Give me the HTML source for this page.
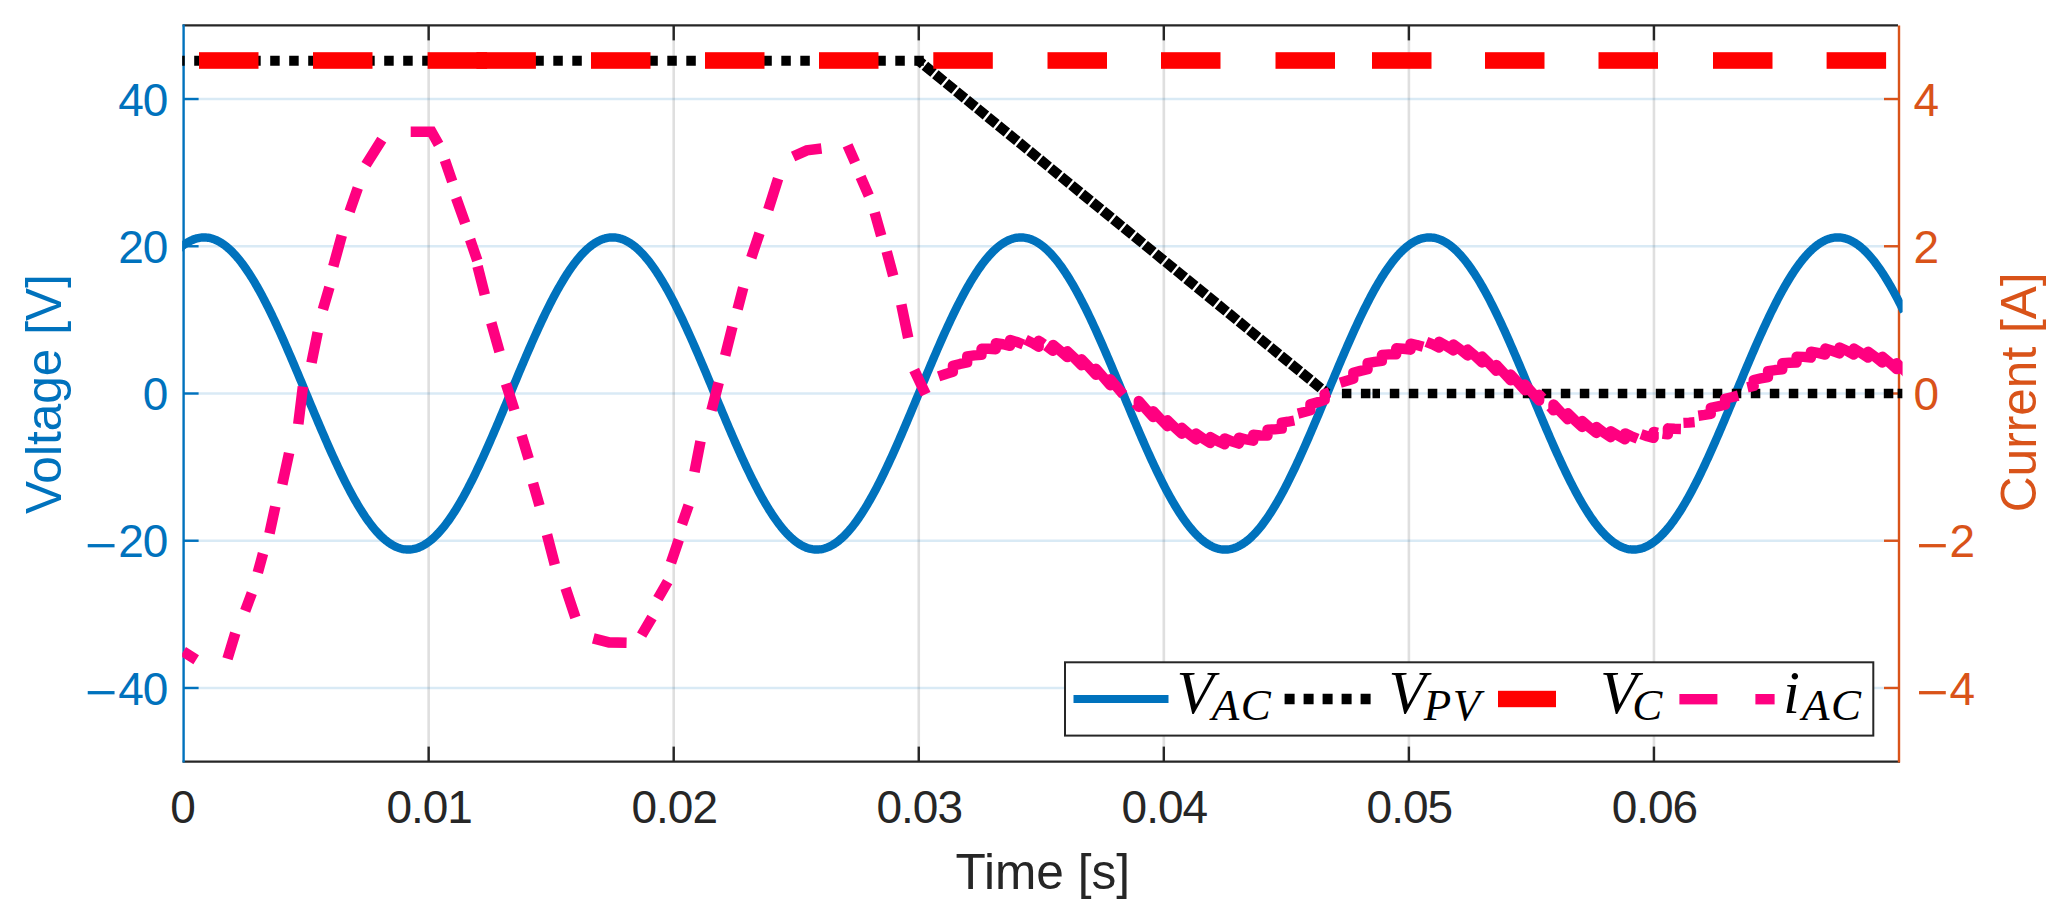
<!DOCTYPE html>
<html lang="en">
<head>
<meta charset="utf-8">
<title>Voltage and current versus time</title>
<style>
html, body { margin: 0; padding: 0; background: #ffffff; }
body { width: 2059px; height: 920px; overflow: hidden; }
svg { display: block; }
</style>
</head>
<body>
<svg width="2059" height="920" viewBox="0 0 2059 920">
<rect x="0" y="0" width="2059" height="920" fill="#ffffff"/>
<defs><clipPath id="plotclip"><rect x="182.2" y="25.4" width="1720.4" height="736.2"/></clipPath></defs>
<g stroke-width="2.6" fill="none">
<line x1="428.66" y1="25.4" x2="428.66" y2="761.6" stroke="rgba(38,38,38,0.15)"/>
<line x1="673.71" y1="25.4" x2="673.71" y2="761.6" stroke="rgba(38,38,38,0.15)"/>
<line x1="918.77" y1="25.4" x2="918.77" y2="761.6" stroke="rgba(38,38,38,0.15)"/>
<line x1="1163.83" y1="25.4" x2="1163.83" y2="761.6" stroke="rgba(38,38,38,0.15)"/>
<line x1="1408.89" y1="25.4" x2="1408.89" y2="761.6" stroke="rgba(38,38,38,0.15)"/>
<line x1="1653.94" y1="25.4" x2="1653.94" y2="761.6" stroke="rgba(38,38,38,0.15)"/>
<line x1="183.6" y1="687.98" x2="1899" y2="687.98" stroke="rgba(0,114,189,0.15)"/>
<line x1="183.6" y1="540.74" x2="1899" y2="540.74" stroke="rgba(0,114,189,0.15)"/>
<line x1="183.6" y1="393.5" x2="1899" y2="393.5" stroke="rgba(0,114,189,0.15)"/>
<line x1="183.6" y1="246.26" x2="1899" y2="246.26" stroke="rgba(0,114,189,0.15)"/>
<line x1="183.6" y1="99.02" x2="1899" y2="99.02" stroke="rgba(0,114,189,0.15)"/>
</g>
<g fill="none" stroke-width="2.4">
<line x1="182.6" y1="25.4" x2="1898" y2="25.4" stroke="#262626"/>
<line x1="182.6" y1="761.6" x2="1900" y2="761.6" stroke="#262626"/>
<line x1="428.66" y1="25.4" x2="428.66" y2="40.4" stroke="#262626"/>
<line x1="428.66" y1="761.6" x2="428.66" y2="746.6" stroke="#262626"/>
<line x1="673.71" y1="25.4" x2="673.71" y2="40.4" stroke="#262626"/>
<line x1="673.71" y1="761.6" x2="673.71" y2="746.6" stroke="#262626"/>
<line x1="918.77" y1="25.4" x2="918.77" y2="40.4" stroke="#262626"/>
<line x1="918.77" y1="761.6" x2="918.77" y2="746.6" stroke="#262626"/>
<line x1="1163.83" y1="25.4" x2="1163.83" y2="40.4" stroke="#262626"/>
<line x1="1163.83" y1="761.6" x2="1163.83" y2="746.6" stroke="#262626"/>
<line x1="1408.89" y1="25.4" x2="1408.89" y2="40.4" stroke="#262626"/>
<line x1="1408.89" y1="761.6" x2="1408.89" y2="746.6" stroke="#262626"/>
<line x1="1653.94" y1="25.4" x2="1653.94" y2="40.4" stroke="#262626"/>
<line x1="1653.94" y1="761.6" x2="1653.94" y2="746.6" stroke="#262626"/>
<line x1="183.6" y1="24.4" x2="183.6" y2="762.6" stroke="#0072BD"/>
<line x1="183.6" y1="687.98" x2="198.6" y2="687.98" stroke="#0072BD"/>
<line x1="183.6" y1="540.74" x2="198.6" y2="540.74" stroke="#0072BD"/>
<line x1="183.6" y1="393.5" x2="198.6" y2="393.5" stroke="#0072BD"/>
<line x1="183.6" y1="246.26" x2="198.6" y2="246.26" stroke="#0072BD"/>
<line x1="183.6" y1="99.02" x2="198.6" y2="99.02" stroke="#0072BD"/>
</g>
<g fill="none" stroke-width="2.4">
<line x1="1899" y1="25.4" x2="1899" y2="762.6" stroke="#D95319"/>
<line x1="1899" y1="687.98" x2="1884" y2="687.98" stroke="#D95319"/>
<line x1="1899" y1="540.74" x2="1884" y2="540.74" stroke="#D95319"/>
<line x1="1899" y1="393.5" x2="1884" y2="393.5" stroke="#D95319"/>
<line x1="1899" y1="246.26" x2="1884" y2="246.26" stroke="#D95319"/>
<line x1="1899" y1="99.02" x2="1884" y2="99.02" stroke="#D95319"/>
</g>
<g clip-path="url(#plotclip)" fill="none">
<path d="M178.7 249.12L179.92 248.03L181.15 246.99L182.37 246L183.6 245.06L184.83 244.18L186.05 243.35L187.28 242.58L188.5 241.85L189.73 241.18L190.95 240.57L192.18 240.01L193.4 239.5L194.63 239.05L195.85 238.66L197.08 238.32L198.3 238.03L199.53 237.8L200.75 237.62L201.98 237.5L203.2 237.44L204.43 237.43L205.66 237.47L206.88 237.58L208.11 237.73L209.33 237.95L210.56 238.21L211.78 238.54L213.01 238.91L214.23 239.35L215.46 239.83L216.68 240.38L217.91 240.97L219.13 241.62L220.36 242.33L221.58 243.09L222.81 243.9L224.03 244.76L225.26 245.68L226.49 246.65L227.71 247.68L228.94 248.75L230.16 249.88L231.39 251.05L232.61 252.28L233.84 253.56L235.06 254.88L236.29 256.26L237.51 257.69L238.74 259.16L239.96 260.68L241.19 262.25L242.41 263.87L243.64 265.53L244.86 267.23L246.09 268.98L247.31 270.78L248.54 272.62L249.77 274.5L250.99 276.43L252.22 278.39L253.44 280.4L254.67 282.45L255.89 284.53L257.12 286.66L258.34 288.82L259.57 291.02L260.79 293.26L262.02 295.53L263.24 297.84L264.47 300.18L265.69 302.56L266.92 304.96L268.14 307.4L269.37 309.87L270.6 312.37L271.82 314.9L273.05 317.45L274.27 320.04L275.5 322.64L276.72 325.28L277.95 327.94L279.17 330.62L280.4 333.32L281.62 336.05L282.85 338.79L284.07 341.56L285.3 344.34L286.52 347.14L287.75 349.96L288.97 352.79L290.2 355.64L291.43 358.5L292.65 361.37L293.88 364.25L295.1 367.15L296.33 370.05L297.55 372.97L298.78 375.89L300 378.81L301.23 381.74L302.45 384.68L303.68 387.62L304.9 390.56L306.13 393.5L307.35 396.44L308.58 399.38L309.8 402.32L311.03 405.26L312.25 408.19L313.48 411.11L314.71 414.03L315.93 416.95L317.16 419.85L318.38 422.75L319.61 425.63L320.83 428.5L322.06 431.36L323.28 434.21L324.51 437.04L325.73 439.86L326.96 442.66L328.18 445.44L329.41 448.21L330.63 450.95L331.86 453.68L333.08 456.38L334.31 459.06L335.54 461.72L336.76 464.36L337.99 466.96L339.21 469.55L340.44 472.1L341.66 474.63L342.89 477.13L344.11 479.6L345.34 482.04L346.56 484.44L347.79 486.82L349.01 489.16L350.24 491.47L351.46 493.74L352.69 495.98L353.91 498.18L355.14 500.34L356.37 502.47L357.59 504.55L358.82 506.6L360.04 508.61L361.27 510.57L362.49 512.5L363.72 514.38L364.94 516.22L366.17 518.02L367.39 519.77L368.62 521.47L369.84 523.13L371.07 524.75L372.29 526.32L373.52 527.84L374.74 529.31L375.97 530.74L377.2 532.12L378.42 533.44L379.65 534.72L380.87 535.95L382.1 537.12L383.32 538.25L384.55 539.32L385.77 540.35L387 541.32L388.22 542.24L389.45 543.1L390.67 543.91L391.9 544.67L393.12 545.38L394.35 546.03L395.57 546.62L396.8 547.17L398.02 547.65L399.25 548.09L400.48 548.46L401.7 548.79L402.93 549.05L404.15 549.27L405.38 549.42L406.6 549.53L407.83 549.57L409.05 549.56L410.28 549.5L411.5 549.38L412.73 549.2L413.95 548.97L415.18 548.68L416.4 548.34L417.63 547.95L418.85 547.5L420.08 546.99L421.31 546.43L422.53 545.82L423.76 545.15L424.98 544.42L426.21 543.65L427.43 542.82L428.66 541.94L429.88 541L431.11 540.01L432.33 538.97L433.56 537.88L434.78 536.74L436.01 535.54L437.23 534.3L438.46 533.01L439.68 531.66L440.91 530.27L442.14 528.83L443.36 527.34L444.59 525.8L445.81 524.22L447.04 522.59L448.26 520.91L449.49 519.19L450.71 517.42L451.94 515.61L453.16 513.76L454.39 511.86L455.61 509.92L456.84 507.94L458.06 505.92L459.29 503.86L460.51 501.76L461.74 499.62L462.97 497.45L464.19 495.23L465.42 492.99L466.64 490.7L467.87 488.38L469.09 486.03L470.32 483.64L471.54 481.23L472.77 478.78L473.99 476.3L475.22 473.79L476.44 471.25L477.67 468.69L478.89 466.1L480.12 463.48L481.34 460.84L482.57 458.17L483.79 455.48L485.02 452.77L486.25 450.04L487.47 447.29L488.7 444.52L489.92 441.73L491.15 438.92L492.37 436.1L493.6 433.26L494.82 430.41L496.05 427.55L497.27 424.67L498.5 421.78L499.72 418.88L500.95 415.98L502.17 413.06L503.4 410.14L504.62 407.21L505.85 404.28L507.08 401.34L508.3 398.4L509.53 395.46L510.75 392.52L511.98 389.58L513.2 386.64L514.43 383.7L515.65 380.77L516.88 377.84L518.1 374.91L519.33 371.99L520.55 369.08L521.78 366.18L523 363.29L524.23 360.41L525.45 357.54L526.68 354.69L527.91 351.84L529.13 349.02L530.36 346.2L531.58 343.41L532.81 340.63L534.03 337.87L535.26 335.13L536.48 332.42L537.71 329.72L538.93 327.05L540.16 324.4L541.38 321.77L542.61 319.17L543.83 316.6L545.06 314.05L546.28 311.53L547.51 309.04L548.74 306.59L549.96 304.16L551.19 301.76L552.41 299.4L553.64 297.07L554.86 294.77L556.09 292.51L557.31 290.29L558.54 288.1L559.76 285.95L560.99 283.83L562.21 281.76L563.44 279.73L564.66 277.73L565.89 275.78L567.11 273.87L568.34 272L569.57 270.18L570.79 268.4L572.02 266.66L573.24 264.97L574.47 263.32L575.69 261.72L576.92 260.17L578.14 258.66L579.37 257.21L580.59 255.8L581.82 254.44L583.04 253.13L584.27 251.86L585.49 250.65L586.72 249.49L587.94 248.39L589.17 247.33L590.39 246.32L591.62 245.37L592.85 244.47L594.07 243.62L595.3 242.83L596.52 242.09L597.75 241.4L598.97 240.77L600.2 240.19L601.42 239.67L602.65 239.2L603.87 238.78L605.1 238.42L606.32 238.12L607.55 237.87L608.77 237.68L610 237.54L611.22 237.45L612.45 237.43L613.68 237.45L614.9 237.54L616.13 237.68L617.35 237.87L618.58 238.12L619.8 238.42L621.03 238.78L622.25 239.2L623.48 239.67L624.7 240.19L625.93 240.77L627.15 241.4L628.38 242.09L629.6 242.83L630.83 243.62L632.05 244.47L633.28 245.37L634.51 246.32L635.73 247.33L636.96 248.39L638.18 249.49L639.41 250.65L640.63 251.86L641.86 253.13L643.08 254.44L644.31 255.8L645.53 257.21L646.76 258.66L647.98 260.17L649.21 261.72L650.43 263.32L651.66 264.97L652.88 266.66L654.11 268.4L655.34 270.18L656.56 272L657.79 273.87L659.01 275.78L660.24 277.73L661.46 279.73L662.69 281.76L663.91 283.83L665.14 285.95L666.36 288.1L667.59 290.29L668.81 292.51L670.04 294.77L671.26 297.07L672.49 299.4L673.71 301.76L674.94 304.16L676.16 306.59L677.39 309.04L678.62 311.53L679.84 314.05L681.07 316.6L682.29 319.17L683.52 321.77L684.74 324.4L685.97 327.05L687.19 329.72L688.42 332.42L689.64 335.13L690.87 337.87L692.09 340.63L693.32 343.41L694.54 346.2L695.77 349.02L696.99 351.84L698.22 354.69L699.45 357.54L700.67 360.41L701.9 363.29L703.12 366.18L704.35 369.08L705.57 371.99L706.8 374.91L708.02 377.84L709.25 380.77L710.47 383.7L711.7 386.64L712.92 389.58L714.15 392.52L715.37 395.46L716.6 398.4L717.82 401.34L719.05 404.28L720.28 407.21L721.5 410.14L722.73 413.06L723.95 415.98L725.18 418.88L726.4 421.78L727.63 424.67L728.85 427.55L730.08 430.41L731.3 433.26L732.53 436.1L733.75 438.92L734.98 441.73L736.2 444.52L737.43 447.29L738.65 450.04L739.88 452.77L741.11 455.48L742.33 458.17L743.56 460.84L744.78 463.48L746.01 466.1L747.23 468.69L748.46 471.25L749.68 473.79L750.91 476.3L752.13 478.78L753.36 481.23L754.58 483.64L755.81 486.03L757.03 488.38L758.26 490.7L759.48 492.99L760.71 495.23L761.93 497.45L763.16 499.62L764.39 501.76L765.61 503.86L766.84 505.92L768.06 507.94L769.29 509.92L770.51 511.86L771.74 513.76L772.96 515.61L774.19 517.42L775.41 519.19L776.64 520.91L777.86 522.59L779.09 524.22L780.31 525.8L781.54 527.34L782.76 528.83L783.99 530.27L785.22 531.66L786.44 533.01L787.67 534.3L788.89 535.54L790.12 536.74L791.34 537.88L792.57 538.97L793.79 540.01L795.02 541L796.24 541.94L797.47 542.82L798.69 543.65L799.92 544.42L801.14 545.15L802.37 545.82L803.59 546.43L804.82 546.99L806.05 547.5L807.27 547.95L808.5 548.34L809.72 548.68L810.95 548.97L812.17 549.2L813.4 549.38L814.62 549.5L815.85 549.56L817.07 549.57L818.3 549.53L819.52 549.42L820.75 549.27L821.97 549.05L823.2 548.79L824.42 548.46L825.65 548.09L826.88 547.65L828.1 547.17L829.33 546.62L830.55 546.03L831.78 545.38L833 544.67L834.23 543.91L835.45 543.1L836.68 542.24L837.9 541.32L839.13 540.35L840.35 539.32L841.58 538.25L842.8 537.12L844.03 535.95L845.25 534.72L846.48 533.44L847.7 532.12L848.93 530.74L850.16 529.31L851.38 527.84L852.61 526.32L853.83 524.75L855.06 523.13L856.28 521.47L857.51 519.77L858.73 518.02L859.96 516.22L861.18 514.38L862.41 512.5L863.63 510.57L864.86 508.61L866.08 506.6L867.31 504.55L868.53 502.47L869.76 500.34L870.99 498.18L872.21 495.98L873.44 493.74L874.66 491.47L875.89 489.16L877.11 486.82L878.34 484.44L879.56 482.04L880.79 479.6L882.01 477.13L883.24 474.63L884.46 472.1L885.69 469.55L886.91 466.96L888.14 464.36L889.36 461.72L890.59 459.06L891.82 456.38L893.04 453.68L894.27 450.95L895.49 448.21L896.72 445.44L897.94 442.66L899.17 439.86L900.39 437.04L901.62 434.21L902.84 431.36L904.07 428.5L905.29 425.63L906.52 422.75L907.74 419.85L908.97 416.95L910.19 414.03L911.42 411.11L912.65 408.19L913.87 405.26L915.1 402.32L916.32 399.38L917.55 396.44L918.77 393.5L920 390.56L921.22 387.62L922.45 384.68L923.67 381.74L924.9 378.81L926.12 375.89L927.35 372.97L928.57 370.05L929.8 367.15L931.02 364.25L932.25 361.37L933.47 358.5L934.7 355.64L935.93 352.79L937.15 349.96L938.38 347.14L939.6 344.34L940.83 341.56L942.05 338.79L943.28 336.05L944.5 333.32L945.73 330.62L946.95 327.94L948.18 325.28L949.4 322.64L950.63 320.04L951.85 317.45L953.08 314.9L954.3 312.37L955.53 309.87L956.76 307.4L957.98 304.96L959.21 302.56L960.43 300.18L961.66 297.84L962.88 295.53L964.11 293.26L965.33 291.02L966.56 288.82L967.78 286.66L969.01 284.53L970.23 282.45L971.46 280.4L972.68 278.39L973.91 276.43L975.13 274.5L976.36 272.62L977.59 270.78L978.81 268.98L980.04 267.23L981.26 265.53L982.49 263.87L983.71 262.25L984.94 260.68L986.16 259.16L987.39 257.69L988.61 256.26L989.84 254.88L991.06 253.56L992.29 252.28L993.51 251.05L994.74 249.88L995.96 248.75L997.19 247.68L998.42 246.65L999.64 245.68L1000.87 244.76L1002.09 243.9L1003.32 243.09L1004.54 242.33L1005.77 241.62L1006.99 240.97L1008.22 240.38L1009.44 239.83L1010.67 239.35L1011.89 238.91L1013.12 238.54L1014.34 238.21L1015.57 237.95L1016.79 237.73L1018.02 237.58L1019.24 237.47L1020.47 237.43L1021.7 237.44L1022.92 237.5L1024.15 237.62L1025.37 237.8L1026.6 238.03L1027.82 238.32L1029.05 238.66L1030.27 239.05L1031.5 239.5L1032.72 240.01L1033.95 240.57L1035.17 241.18L1036.4 241.85L1037.62 242.58L1038.85 243.35L1040.07 244.18L1041.3 245.06L1042.53 246L1043.75 246.99L1044.98 248.03L1046.2 249.12L1047.43 250.26L1048.65 251.46L1049.88 252.7L1051.1 253.99L1052.33 255.34L1053.55 256.73L1054.78 258.17L1056 259.66L1057.23 261.2L1058.45 262.78L1059.68 264.41L1060.9 266.09L1062.13 267.81L1063.36 269.58L1064.58 271.39L1065.81 273.24L1067.03 275.14L1068.26 277.08L1069.48 279.06L1070.71 281.08L1071.93 283.14L1073.16 285.24L1074.38 287.38L1075.61 289.55L1076.83 291.77L1078.06 294.01L1079.28 296.3L1080.51 298.62L1081.73 300.97L1082.96 303.36L1084.19 305.77L1085.41 308.22L1086.64 310.7L1087.86 313.21L1089.09 315.75L1090.31 318.31L1091.54 320.9L1092.76 323.52L1093.99 326.16L1095.21 328.83L1096.44 331.52L1097.66 334.23L1098.89 336.96L1100.11 339.71L1101.34 342.48L1102.56 345.27L1103.79 348.08L1105.01 350.9L1106.24 353.74L1107.47 356.59L1108.69 359.45L1109.92 362.33L1111.14 365.22L1112.37 368.12L1113.59 371.02L1114.82 373.94L1116.04 376.86L1117.27 379.79L1118.49 382.72L1119.72 385.66L1120.94 388.6L1122.17 391.54L1123.39 394.48L1124.62 397.42L1125.84 400.36L1127.07 403.3L1128.3 406.23L1129.52 409.16L1130.75 412.09L1131.97 415.01L1133.2 417.92L1134.42 420.82L1135.65 423.71L1136.87 426.59L1138.1 429.46L1139.32 432.31L1140.55 435.16L1141.77 437.98L1143 440.8L1144.22 443.59L1145.45 446.37L1146.67 449.13L1147.9 451.87L1149.13 454.58L1150.35 457.28L1151.58 459.95L1152.8 462.6L1154.03 465.23L1155.25 467.83L1156.48 470.4L1157.7 472.95L1158.93 475.47L1160.15 477.96L1161.38 480.41L1162.6 482.84L1163.83 485.24L1165.05 487.6L1166.28 489.93L1167.5 492.23L1168.73 494.49L1169.95 496.71L1171.18 498.9L1172.41 501.05L1173.63 503.17L1174.86 505.24L1176.08 507.27L1177.31 509.27L1178.53 511.22L1179.76 513.13L1180.98 515L1182.21 516.82L1183.43 518.6L1184.66 520.34L1185.88 522.03L1187.11 523.68L1188.33 525.28L1189.56 526.83L1190.78 528.34L1192.01 529.79L1193.24 531.2L1194.46 532.56L1195.69 533.87L1196.91 535.14L1198.14 536.35L1199.36 537.51L1200.59 538.61L1201.81 539.67L1203.04 540.68L1204.26 541.63L1205.49 542.53L1206.71 543.38L1207.94 544.17L1209.16 544.91L1210.39 545.6L1211.61 546.23L1212.84 546.81L1214.07 547.33L1215.29 547.8L1216.52 548.22L1217.74 548.58L1218.97 548.88L1220.19 549.13L1221.42 549.32L1222.64 549.46L1223.87 549.55L1225.09 549.57L1226.32 549.55L1227.54 549.46L1228.77 549.32L1229.99 549.13L1231.22 548.88L1232.44 548.58L1233.67 548.22L1234.9 547.8L1236.12 547.33L1237.35 546.81L1238.57 546.23L1239.8 545.6L1241.02 544.91L1242.25 544.17L1243.47 543.38L1244.7 542.53L1245.92 541.63L1247.15 540.68L1248.37 539.67L1249.6 538.61L1250.82 537.51L1252.05 536.35L1253.27 535.14L1254.5 533.87L1255.73 532.56L1256.95 531.2L1258.18 529.79L1259.4 528.34L1260.63 526.83L1261.85 525.28L1263.08 523.68L1264.3 522.03L1265.53 520.34L1266.75 518.6L1267.98 516.82L1269.2 515L1270.43 513.13L1271.65 511.22L1272.88 509.27L1274.1 507.27L1275.33 505.24L1276.55 503.17L1277.78 501.05L1279.01 498.9L1280.23 496.71L1281.46 494.49L1282.68 492.23L1283.91 489.93L1285.13 487.6L1286.36 485.24L1287.58 482.84L1288.81 480.41L1290.03 477.96L1291.26 475.47L1292.48 472.95L1293.71 470.4L1294.93 467.83L1296.16 465.23L1297.38 462.6L1298.61 459.95L1299.84 457.28L1301.06 454.58L1302.29 451.87L1303.51 449.13L1304.74 446.37L1305.96 443.59L1307.19 440.8L1308.41 437.98L1309.64 435.16L1310.86 432.31L1312.09 429.46L1313.31 426.59L1314.54 423.71L1315.76 420.82L1316.99 417.92L1318.21 415.01L1319.44 412.09L1320.67 409.16L1321.89 406.23L1323.12 403.3L1324.34 400.36L1325.57 397.42L1326.79 394.48L1328.02 391.54L1329.24 388.6L1330.47 385.66L1331.69 382.72L1332.92 379.79L1334.14 376.86L1335.37 373.94L1336.59 371.02L1337.82 368.12L1339.04 365.22L1340.27 362.33L1341.49 359.45L1342.72 356.59L1343.95 353.74L1345.17 350.9L1346.4 348.08L1347.62 345.27L1348.85 342.48L1350.07 339.71L1351.3 336.96L1352.52 334.23L1353.75 331.52L1354.97 328.83L1356.2 326.16L1357.42 323.52L1358.65 320.9L1359.87 318.31L1361.1 315.75L1362.32 313.21L1363.55 310.7L1364.78 308.22L1366 305.77L1367.23 303.36L1368.45 300.97L1369.68 298.62L1370.9 296.3L1372.13 294.01L1373.35 291.77L1374.58 289.55L1375.8 287.38L1377.03 285.24L1378.25 283.14L1379.48 281.08L1380.7 279.06L1381.93 277.08L1383.15 275.14L1384.38 273.24L1385.61 271.39L1386.83 269.58L1388.06 267.81L1389.28 266.09L1390.51 264.41L1391.73 262.78L1392.96 261.2L1394.18 259.66L1395.41 258.17L1396.63 256.73L1397.86 255.34L1399.08 253.99L1400.31 252.7L1401.53 251.46L1402.76 250.26L1403.98 249.12L1405.21 248.03L1406.44 246.99L1407.66 246L1408.89 245.06L1410.11 244.18L1411.34 243.35L1412.56 242.58L1413.79 241.85L1415.01 241.18L1416.24 240.57L1417.46 240.01L1418.69 239.5L1419.91 239.05L1421.14 238.66L1422.36 238.32L1423.59 238.03L1424.81 237.8L1426.04 237.62L1427.27 237.5L1428.49 237.44L1429.72 237.43L1430.94 237.47L1432.17 237.58L1433.39 237.73L1434.62 237.95L1435.84 238.21L1437.07 238.54L1438.29 238.91L1439.52 239.35L1440.74 239.83L1441.97 240.38L1443.19 240.97L1444.42 241.62L1445.64 242.33L1446.87 243.09L1448.09 243.9L1449.32 244.76L1450.55 245.68L1451.77 246.65L1453 247.68L1454.22 248.75L1455.45 249.88L1456.67 251.05L1457.9 252.28L1459.12 253.56L1460.35 254.88L1461.57 256.26L1462.8 257.69L1464.02 259.16L1465.25 260.68L1466.47 262.25L1467.7 263.87L1468.92 265.53L1470.15 267.23L1471.38 268.98L1472.6 270.78L1473.83 272.62L1475.05 274.5L1476.28 276.43L1477.5 278.39L1478.73 280.4L1479.95 282.45L1481.18 284.53L1482.4 286.66L1483.63 288.82L1484.85 291.02L1486.08 293.26L1487.3 295.53L1488.53 297.84L1489.75 300.18L1490.98 302.56L1492.21 304.96L1493.43 307.4L1494.66 309.87L1495.88 312.37L1497.11 314.9L1498.33 317.45L1499.56 320.04L1500.78 322.64L1502.01 325.28L1503.23 327.94L1504.46 330.62L1505.68 333.32L1506.91 336.05L1508.13 338.79L1509.36 341.56L1510.58 344.34L1511.81 347.14L1513.04 349.96L1514.26 352.79L1515.49 355.64L1516.71 358.5L1517.94 361.37L1519.16 364.25L1520.39 367.15L1521.61 370.05L1522.84 372.97L1524.06 375.89L1525.29 378.81L1526.51 381.74L1527.74 384.68L1528.96 387.62L1530.19 390.56L1531.41 393.5L1532.64 396.44L1533.86 399.38L1535.09 402.32L1536.32 405.26L1537.54 408.19L1538.77 411.11L1539.99 414.03L1541.22 416.95L1542.44 419.85L1543.67 422.75L1544.89 425.63L1546.12 428.5L1547.34 431.36L1548.57 434.21L1549.79 437.04L1551.02 439.86L1552.24 442.66L1553.47 445.44L1554.69 448.21L1555.92 450.95L1557.15 453.68L1558.37 456.38L1559.6 459.06L1560.82 461.72L1562.05 464.36L1563.27 466.96L1564.5 469.55L1565.72 472.1L1566.95 474.63L1568.17 477.13L1569.4 479.6L1570.62 482.04L1571.85 484.44L1573.07 486.82L1574.3 489.16L1575.52 491.47L1576.75 493.74L1577.98 495.98L1579.2 498.18L1580.43 500.34L1581.65 502.47L1582.88 504.55L1584.1 506.6L1585.33 508.61L1586.55 510.57L1587.78 512.5L1589 514.38L1590.23 516.22L1591.45 518.02L1592.68 519.77L1593.9 521.47L1595.13 523.13L1596.35 524.75L1597.58 526.32L1598.81 527.84L1600.03 529.31L1601.26 530.74L1602.48 532.12L1603.71 533.44L1604.93 534.72L1606.16 535.95L1607.38 537.12L1608.61 538.25L1609.83 539.32L1611.06 540.35L1612.28 541.32L1613.51 542.24L1614.73 543.1L1615.96 543.91L1617.18 544.67L1618.41 545.38L1619.63 546.03L1620.86 546.62L1622.09 547.17L1623.31 547.65L1624.54 548.09L1625.76 548.46L1626.99 548.79L1628.21 549.05L1629.44 549.27L1630.66 549.42L1631.89 549.53L1633.11 549.57L1634.34 549.56L1635.56 549.5L1636.79 549.38L1638.01 549.2L1639.24 548.97L1640.46 548.68L1641.69 548.34L1642.92 547.95L1644.14 547.5L1645.37 546.99L1646.59 546.43L1647.82 545.82L1649.04 545.15L1650.27 544.42L1651.49 543.65L1652.72 542.82L1653.94 541.94L1655.17 541L1656.39 540.01L1657.62 538.97L1658.84 537.88L1660.07 536.74L1661.29 535.54L1662.52 534.3L1663.75 533.01L1664.97 531.66L1666.2 530.27L1667.42 528.83L1668.65 527.34L1669.87 525.8L1671.1 524.22L1672.32 522.59L1673.55 520.91L1674.77 519.19L1676 517.42L1677.22 515.61L1678.45 513.76L1679.67 511.86L1680.9 509.92L1682.12 507.94L1683.35 505.92L1684.58 503.86L1685.8 501.76L1687.03 499.62L1688.25 497.45L1689.48 495.23L1690.7 492.99L1691.93 490.7L1693.15 488.38L1694.38 486.03L1695.6 483.64L1696.83 481.23L1698.05 478.78L1699.28 476.3L1700.5 473.79L1701.73 471.25L1702.95 468.69L1704.18 466.1L1705.4 463.48L1706.63 460.84L1707.86 458.17L1709.08 455.48L1710.31 452.77L1711.53 450.04L1712.76 447.29L1713.98 444.52L1715.21 441.73L1716.43 438.92L1717.66 436.1L1718.88 433.26L1720.11 430.41L1721.33 427.55L1722.56 424.67L1723.78 421.78L1725.01 418.88L1726.23 415.98L1727.46 413.06L1728.69 410.14L1729.91 407.21L1731.14 404.28L1732.36 401.34L1733.59 398.4L1734.81 395.46L1736.04 392.52L1737.26 389.58L1738.49 386.64L1739.71 383.7L1740.94 380.77L1742.16 377.84L1743.39 374.91L1744.61 371.99L1745.84 369.08L1747.06 366.18L1748.29 363.29L1749.52 360.41L1750.74 357.54L1751.97 354.69L1753.19 351.84L1754.42 349.02L1755.64 346.2L1756.87 343.41L1758.09 340.63L1759.32 337.87L1760.54 335.13L1761.77 332.42L1762.99 329.72L1764.22 327.05L1765.44 324.4L1766.67 321.77L1767.89 319.17L1769.12 316.6L1770.35 314.05L1771.57 311.53L1772.8 309.04L1774.02 306.59L1775.25 304.16L1776.47 301.76L1777.7 299.4L1778.92 297.07L1780.15 294.77L1781.37 292.51L1782.6 290.29L1783.82 288.1L1785.05 285.95L1786.27 283.83L1787.5 281.76L1788.72 279.73L1789.95 277.73L1791.17 275.78L1792.4 273.87L1793.63 272L1794.85 270.18L1796.08 268.4L1797.3 266.66L1798.53 264.97L1799.75 263.32L1800.98 261.72L1802.2 260.17L1803.43 258.66L1804.65 257.21L1805.88 255.8L1807.1 254.44L1808.33 253.13L1809.55 251.86L1810.78 250.65L1812 249.49L1813.23 248.39L1814.46 247.33L1815.68 246.32L1816.91 245.37L1818.13 244.47L1819.36 243.62L1820.58 242.83L1821.81 242.09L1823.03 241.4L1824.26 240.77L1825.48 240.19L1826.71 239.67L1827.93 239.2L1829.16 238.78L1830.38 238.42L1831.61 238.12L1832.83 237.87L1834.06 237.68L1835.29 237.54L1836.51 237.45L1837.74 237.43L1838.96 237.45L1840.19 237.54L1841.41 237.68L1842.64 237.87L1843.86 238.12L1845.09 238.42L1846.31 238.78L1847.54 239.2L1848.76 239.67L1849.99 240.19L1851.21 240.77L1852.44 241.4L1853.66 242.09L1854.89 242.83L1856.11 243.62L1857.34 244.47L1858.57 245.37L1859.79 246.32L1861.02 247.33L1862.24 248.39L1863.47 249.49L1864.69 250.65L1865.92 251.86L1867.14 253.13L1868.37 254.44L1869.59 255.8L1870.82 257.21L1872.04 258.66L1873.27 260.17L1874.49 261.72L1875.72 263.32L1876.94 264.97L1878.17 266.66L1879.4 268.4L1880.62 270.18L1881.85 272L1883.07 273.87L1884.3 275.78L1885.52 277.73L1886.75 279.73L1887.97 281.76L1889.2 283.83L1890.42 285.95L1891.65 288.1L1892.87 290.29L1894.1 292.51L1895.32 294.77L1896.55 297.07L1897.77 299.4L1899 301.76L1900.23 304.16L1901.45 306.59L1902.68 309.04L1903.9 311.53" stroke="#0072BD" stroke-width="8.4" stroke-linejoin="round"/>
<path d="M180.6 60.8 L470 60.8" stroke="#000" stroke-width="10" stroke-dasharray="9.5 9.5" stroke-dashoffset="5.4"/>
<path d="M477.3 60.8 L924 60.8" stroke="#000" stroke-width="10" stroke-dasharray="9.5 9.5"/>
<path d="M918.77 60.8 L1327.2 393.5" stroke="#000" stroke-width="10.2" stroke-dasharray="11.2 2.3" stroke-dashoffset="5.6"/>
<path d="M1341.9 393.5 L1372.5 393.5" stroke="#000" stroke-width="9.5" stroke-dasharray="9.5 9.5"/>
<rect x="1372.5" y="388.75" width="7.5" height="9.5" fill="#000"/>
<path d="M1389.8 393.5 L1896 393.5" stroke="#000" stroke-width="9.5" stroke-dasharray="9.5 9.5"/>
<rect x="1897.6" y="388.75" width="5" height="9.5" fill="#000"/>
<rect x="199" y="52.2" width="59.5" height="16.6" fill="#FF0000"/>
<rect x="313" y="52.2" width="59.5" height="16.6" fill="#FF0000"/>
<rect x="427.6" y="52.2" width="59.5" height="16.6" fill="#FF0000"/>
<rect x="476.4" y="52.2" width="59.5" height="16.6" fill="#FF0000"/>
<rect x="591" y="52.2" width="59.5" height="16.6" fill="#FF0000"/>
<rect x="705" y="52.2" width="59.5" height="16.6" fill="#FF0000"/>
<rect x="819" y="52.2" width="59.5" height="16.6" fill="#FF0000"/>
<rect x="933.3" y="52.2" width="59.5" height="16.6" fill="#FF0000"/>
<rect x="1047.5" y="52.2" width="59.5" height="16.6" fill="#FF0000"/>
<rect x="1161" y="52.2" width="59.5" height="16.6" fill="#FF0000"/>
<rect x="1275.5" y="52.2" width="59.5" height="16.6" fill="#FF0000"/>
<rect x="1372" y="52.2" width="59.5" height="16.6" fill="#FF0000"/>
<rect x="1485" y="52.2" width="59.5" height="16.6" fill="#FF0000"/>
<rect x="1598.5" y="52.2" width="59.5" height="16.6" fill="#FF0000"/>
<rect x="1713" y="52.2" width="59.5" height="16.6" fill="#FF0000"/>
<rect x="1826.6" y="52.2" width="59.5" height="16.6" fill="#FF0000"/>
<path d="M183.2 651.6 L196.2 659.7 M227.5 658.7 L235.3 633.1 M245.2 610.9 L251.8 593.2 M257.8 572.6 L263 553.5 M269.5 533.4 L275.3 506.5 M282.3 484.4 L289.1 453 M298.3 424.2 L302.9 386.7 M311.5 362.8 L317.7 332.3 M322.9 309.4 L329.4 287.3 M333.3 266.4 L341.8 235.4 M349.6 211.6 L357.8 188.1 M366 164.8 L381.8 139.6 M410.7 131.7 L431.5 131.7 L438.6 144.4 M444.9 160.2 L452.2 181.4 M456.1 197.9 L465.2 223.3 M470.1 239.6 L477.3 260.5 M477.6 266.4 L484.8 294.8 M491.3 322.8 L499.5 351.8 M506 383.8 L514.4 410 M521.6 435.5 L528.7 458.9 M533 483.1 L539.5 505.6 M547 534.6 L554.8 564.6 M565.6 588.1 L575.4 617.5 M593.3 638.3 L609 642.4 L626.6 642.8 M641.6 635.1 L652 617.5 M657.9 598.6 L667.7 581.6 M671 562.7 L678.8 539.8 M682 524.2 L688.6 505.3 M694.5 472 L700.5 441.3 M711.5 410.3 L718.7 382.6 M725.2 355.5 L732.4 326.8 M737.6 309.2 L743.2 287.7 M751.3 257.7 L759.5 233.2 M768.3 209.7 L778.1 178.7 M793.1 156.5 L806.8 150.3 L821.5 148.5 M847.6 145.4 L855.1 162.4 M860.6 176.8 L868.8 195.7 M874.7 212.6 L881.2 235.8 M886.7 251.5 L893.2 275.9 M901.3 304.5 L908.2 337.9 M914.2 369.9 L925.7 394.3" stroke="#FF0080" stroke-width="10.6" stroke-linejoin="miter"/>
<path d="M938.6 376.38 L945.75 373.97 L952.9 371.81 L952.9 365.81 L960.05 363.96 L967.2 362.48 L967.2 356.48 L974.35 355.42 L981.5 354.82 L981.5 348.82 L988.65 348.73 L995.8 349.19 L995.8 343.19 L1002.95 344.23 L1010.1 345.87 L1010.1 339.87 L1016.67 341.91 L1023.25 344.49 M1025.55 339.54 L1032.12 342.89 L1038.7 346.76 L1038.7 340.76 L1041.35 342.46 L1044 344.25 M1046.2 345.79 L1049.6 348.27 L1053 350.89 L1053 344.89 L1060.15 350.77 L1067.3 357.16 L1067.3 351.16 L1074.45 358 L1081.6 365.26 L1081.6 359.26 L1088.75 366.87 L1095.9 374.77 L1095.9 368.77 L1103.05 376.92 L1110.2 385.23 L1110.2 379.23 L1116.75 386.95 L1123.3 394.71 M1135.5 403.09 L1137.15 405.01 L1138.8 406.93 L1138.8 400.93 L1145.95 409.13 L1153.1 417.12 L1153.1 411.12 L1160.25 418.83 L1167.4 426.21 L1167.4 420.21 L1174.55 427.21 L1181.7 433.78 L1181.7 427.78 L1188.85 433.88 L1196 439.48 L1196 433.48 L1203.15 438.55 L1210.3 443.06 L1210.3 437.06 L1217.45 441 L1224.6 444.36 L1224.6 438.36 L1231.75 441.27 L1238.9 443.66 L1238.9 437.66 L1246.05 439.48 L1253.2 440.74 L1253.2 434.74 L1260.35 435.46 L1267.5 435.66 L1267.5 429.66 L1274.65 429.39 L1281.8 428.67 L1281.8 422.67 L1288 421.73 L1294.2 420.51 M1298 413.65 L1304.2 412.08 L1310.4 410.34 L1310.4 404.34 L1317.55 402.16 L1324.7 399.86 L1324.7 393.86 L1327.1 393.08 L1329.5 392.29 M1340.2 382.79 L1346.75 380.74 L1353.3 378.8 L1353.3 372.8 L1360.45 370.88 L1367.6 369.23 L1367.6 363.23 L1374.75 361.89 L1381.9 360.93 L1381.9 354.93 L1389.05 354.38 L1396.2 354.31 L1396.2 348.31 L1403.35 348.73 L1410.5 349.7 L1410.5 343.7 L1416.85 345.02 L1423.2 346.8 M1426.4 341.88 L1432.75 344.42 L1439.1 347.63 L1439.1 341.63 L1446.25 345.79 L1453.4 350.51 L1453.4 344.51 L1460.55 349.78 L1467.7 355.55 L1467.7 349.55 L1474.85 355.79 L1482 362.46 L1482 356.46 L1489.15 363.5 L1496.3 370.87 L1496.3 364.87 L1503.45 372.5 L1510.6 380.35 L1510.6 374.35 L1517.75 382.34 L1524.9 390.42 L1524.9 384.42 L1532.05 392.53 L1539.2 400.6 L1539.2 394.6 L1540.85 396.45 L1542.5 398.29 M1550.2 406.8 L1551.85 408.59 L1553.5 410.38 L1553.5 404.38 L1560.65 411.98 L1567.8 419.31 L1567.8 413.31 L1574.95 420.32 L1582.1 426.97 L1582.1 420.97 L1589.25 427.21 L1596.4 433.01 L1596.4 427.01 L1603.55 432.35 L1610.7 437.19 L1610.7 431.19 L1617.85 435.52 L1625 439.33 L1625 433.33 L1631.27 436.24 L1637.55 438.81 M1641.05 434.14 L1647.32 436.22 L1653.6 437.91 L1653.6 431.91 L1655.7 432.38 L1657.8 432.82 M1662.6 433.65 L1665.25 434.02 L1667.9 434.32 L1667.9 428.32 L1674.42 428.81 L1680.95 428.93 M1683.45 422.89 L1689.02 422.63 L1694.6 422.16 M1698.4 415.73 L1704.6 414.84 L1710.8 413.76 L1710.8 407.76 L1717.95 406.33 L1725.1 404.74 L1725.1 398.74 L1731.65 397.2 L1738.2 395.62 M1747.4 387.41 L1750.55 386.68 L1753.7 385.97 L1753.7 379.97 L1760.85 378.46 L1768 377.12 L1768 371.12 L1775.15 370.03 L1782.3 369.21 L1782.3 363.21 L1789.45 362.73 L1796.6 362.62 L1796.6 356.62 L1803.75 356.92 L1810.9 357.66 L1810.9 351.66 L1818.05 352.87 L1825.2 354.57 L1825.2 348.57 L1832.35 350.78 L1839.5 353.51 L1839.5 347.51 L1846.65 350.78 L1853.8 354.57 L1853.8 348.57 L1860.95 352.87 L1868.1 357.66 L1868.1 351.66 L1875.25 356.91 L1882.4 362.6 L1882.4 356.6 L1889.55 362.7 L1896.7 369.16 L1896.7 363.16 L1903.85 369.94 L1911 376.99" stroke="#FF0080" stroke-width="10.4" stroke-linejoin="round"/>
</g>
<g font-family="'Liberation Sans', Arial, Helvetica, sans-serif" font-size="46" letter-spacing="-1">
<g fill="#262626" text-anchor="middle">
<text x="182.6" y="823">0</text>
<text x="429.16" y="823">0.01</text>
<text x="674.21" y="823">0.02</text>
<text x="919.27" y="823">0.03</text>
<text x="1164.33" y="823">0.04</text>
<text x="1409.39" y="823">0.05</text>
<text x="1654.44" y="823">0.06</text>
</g>
<g fill="#0072BD" text-anchor="end">
<text x="167.4" y="115.62">40</text>
<text x="167.4" y="262.86">20</text>
<text x="167.4" y="410.1">0</text>
<text x="167.4" y="557.34"><tspan dy="3.2" textLength="31" lengthAdjust="spacingAndGlyphs">−</tspan><tspan dy="-3.2" dx="2">20</tspan></text>
<text x="167.4" y="704.58"><tspan dy="3.2" textLength="31" lengthAdjust="spacingAndGlyphs">−</tspan><tspan dy="-3.2" dx="2">40</tspan></text>
</g>
<g fill="#D95319" text-anchor="start">
<text x="1913.5" y="115.62">4</text>
<text x="1913.5" y="262.86">2</text>
<text x="1913.5" y="410.1">0</text>
<text x="1916.5" y="557.34"><tspan dy="3.2" textLength="31" lengthAdjust="spacingAndGlyphs">−</tspan><tspan dy="-3.2" dx="2">2</tspan></text>
<text x="1916.5" y="704.58"><tspan dy="3.2" textLength="31" lengthAdjust="spacingAndGlyphs">−</tspan><tspan dy="-3.2" dx="2">4</tspan></text>
</g>
</g>
<g font-family="'Liberation Sans', Arial, Helvetica, sans-serif" font-size="49.6" text-anchor="middle">
<text x="1042.8" y="889.3" fill="#262626">Time [s]</text>
<text transform="translate(61.2 394.1) rotate(-90)" fill="#0072BD">Voltage [V]</text>
<text transform="translate(2035.5 392.3) rotate(-90)" fill="#D95319">Current [A]</text>
</g>
<rect x="1065" y="662.3" width="808.3" height="73.3" fill="#ffffff" stroke="#262626" stroke-width="2"/>
<line x1="1073.5" y1="699" x2="1168.5" y2="699" stroke="#0072BD" stroke-width="8"/>
<line x1="1284.6" y1="699" x2="1371" y2="699" stroke="#000" stroke-width="10.5" stroke-dasharray="10 9"/>
<rect x="1498" y="690.8" width="58" height="16.4" fill="#FF0000"/>
<rect x="1679.4" y="694" width="38" height="10.4" fill="#FF0080"/>
<rect x="1755.4" y="694" width="19.2" height="10.4" fill="#FF0080"/>
<g font-family="'Liberation Serif', 'Times New Roman', serif" font-style="italic" font-size="61" fill="#000">
<text x="1176.5" y="712.8">V<tspan font-size="45" dy="7.5" dx="-2" letter-spacing="1.6">AC</tspan></text>
<text x="1388.5" y="712.8">V<tspan font-size="45" dy="7.5" dx="-2" letter-spacing="1.6">PV</tspan></text>
<text x="1600" y="712.8">V<tspan font-size="45" dy="7.5" dx="-5" letter-spacing="1.6">C</tspan></text>
<text x="1783" y="712.8">i<tspan font-size="45" dy="7.5" dx="2" letter-spacing="1.6">AC</tspan></text>
</g>
</svg>
</body>
</html>
